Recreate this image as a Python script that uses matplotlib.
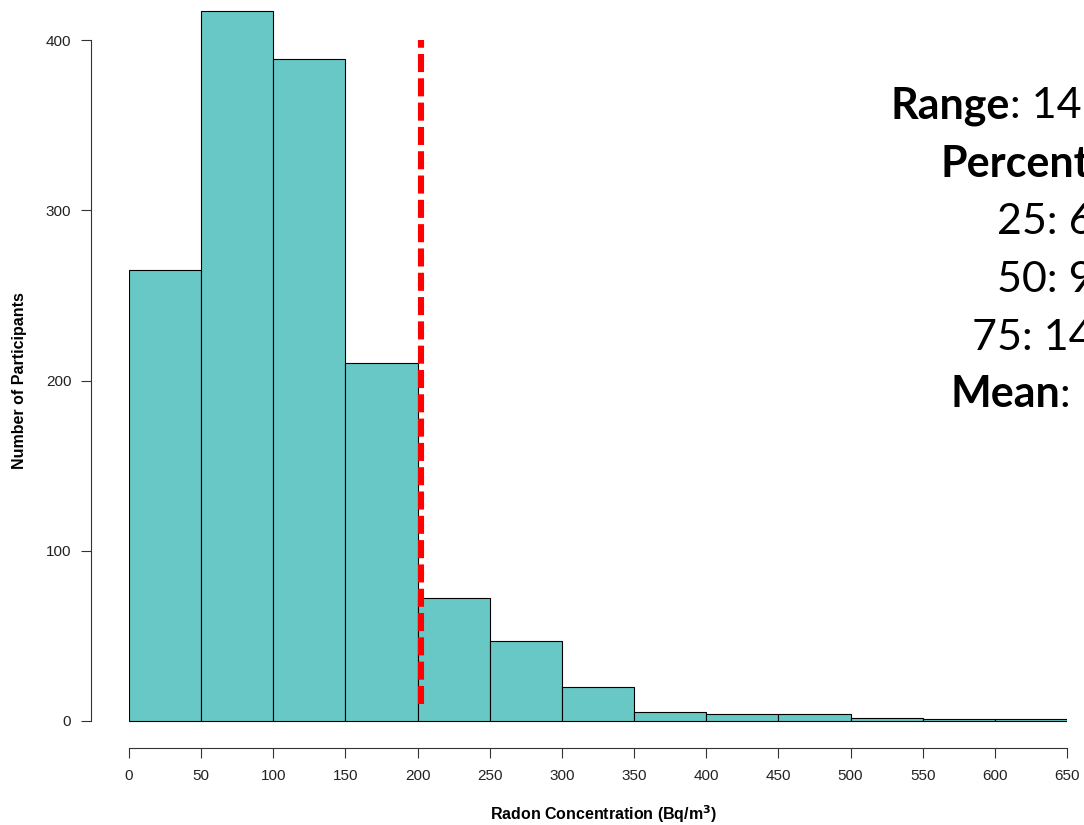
import numpy as np
import matplotlib
matplotlib.use("Agg")
import matplotlib.pyplot as plt

# histogram of radon readings, bins of 50 Bq/m3
bin_edges = [0, 50, 100, 150, 200, 250, 300, 350, 400, 450, 500, 550, 600, 650]
counts = [265, 417, 389, 210, 72, 47, 20, 5, 4, 4, 2, 1, 1]
x_ticks = [0, 50, 100, 150, 200, 250, 300, 350, 400, 450, 500, 550, 600, 650]
y_ticks = [0, 100, 200, 300, 400]
cutoff = 202
cutoff_y = [10, 400]

stats_lines = [
    ("Range", ": 14"),
    ("Percentiles", ""),
    ("", "25: 6"),
    ("", "50: 9"),
    ("", "75: 14"),
    ("Mean", ":"),
]
stats_x = [891, 941, 997, 997, 972, 950]
stats_y = [118, 177, 234, 292, 350, 407]

plt.rcParams['font.family'] = ['Liberation Sans', 'DejaVu Sans']
plt.rcParams['lines.scale_dashes'] = False

W, H = 1084, 825
fig = plt.figure(figsize=(W / 100, H / 100), dpi=100)

# pixel layout: x 0->129, 650->1067 ; y 0->721, 400->40 ; x axis line at 748
px_per_y = (721 - 40) / 400
ax = fig.add_axes([129 / W, (H - 748) / H, (1067 - 129) / W, 748 / H])
ax.set_xlim(0, 650)
ax.set_ylim(-(748 - 721) / px_per_y, 721 / px_per_y)

ax.bar(bin_edges[:-1], counts, width=np.diff(bin_edges), align='edge',
       color='#68C8C6', edgecolor='black', linewidth=0.8, zorder=2)

ax.plot([cutoff, cutoff], cutoff_y, color='#FF0000', linewidth=4.4,
        dashes=(13, 4.5), solid_capstyle='butt', dash_capstyle='butt', zorder=3)

# R-style detached axes
for s in ['top', 'right']:
    ax.spines[s].set_visible(False)
ax.spines['left'].set_position(('outward', 38 * 0.72))
ax.spines['left'].set_bounds(0, 400)
ax.spines['bottom'].set_bounds(0, 650)
for s in ['left', 'bottom']:
    ax.spines[s].set_color('#333333')
    ax.spines[s].set_linewidth(0.8)

ax.set_xticks(x_ticks)
ax.set_yticks(y_ticks)
ax.tick_params(direction='out', length=7.2, width=0.8, color='#333333',
               labelsize=11, labelcolor='#222222')
ax.tick_params(axis='y', pad=7)
ax.tick_params(axis='x', pad=8)

fig.text(604 / W, 1 - 814 / H, r'Radon Concentration (Bq/m$^{\mathbf{3}}$)',
         ha='center', va='center', fontsize=11.5, fontweight='bold')
fig.text(20 / W, 1 - 381 / H, 'Number of Participants', rotation=90,
         ha='center', va='center', fontsize=11.5, fontweight='bold')

# summary text on the right (runs off the edge of the slide)
for (bold, rest), x0, y0 in zip(stats_lines, stats_x, stats_y):
    kw = dict(fontsize=31, family=['Lato', 'DejaVu Sans'], va='baseline', ha='left')
    if bold:
        t = ax.annotate(bold, xy=(x0, H - y0), xycoords='figure pixels',
                        fontweight='bold', annotation_clip=False, **kw)
        if rest:
            ax.annotate(rest, xy=(1, 0), xycoords=t, fontsize=31,
                        family=['Lato', 'DejaVu Sans'], va='bottom', ha='left',
                        annotation_clip=False)
    else:
        ax.annotate(rest, xy=(x0, H - y0), xycoords='figure pixels',
                    annotation_clip=False, **kw)

fig.savefig('out.png', dpi=100)
